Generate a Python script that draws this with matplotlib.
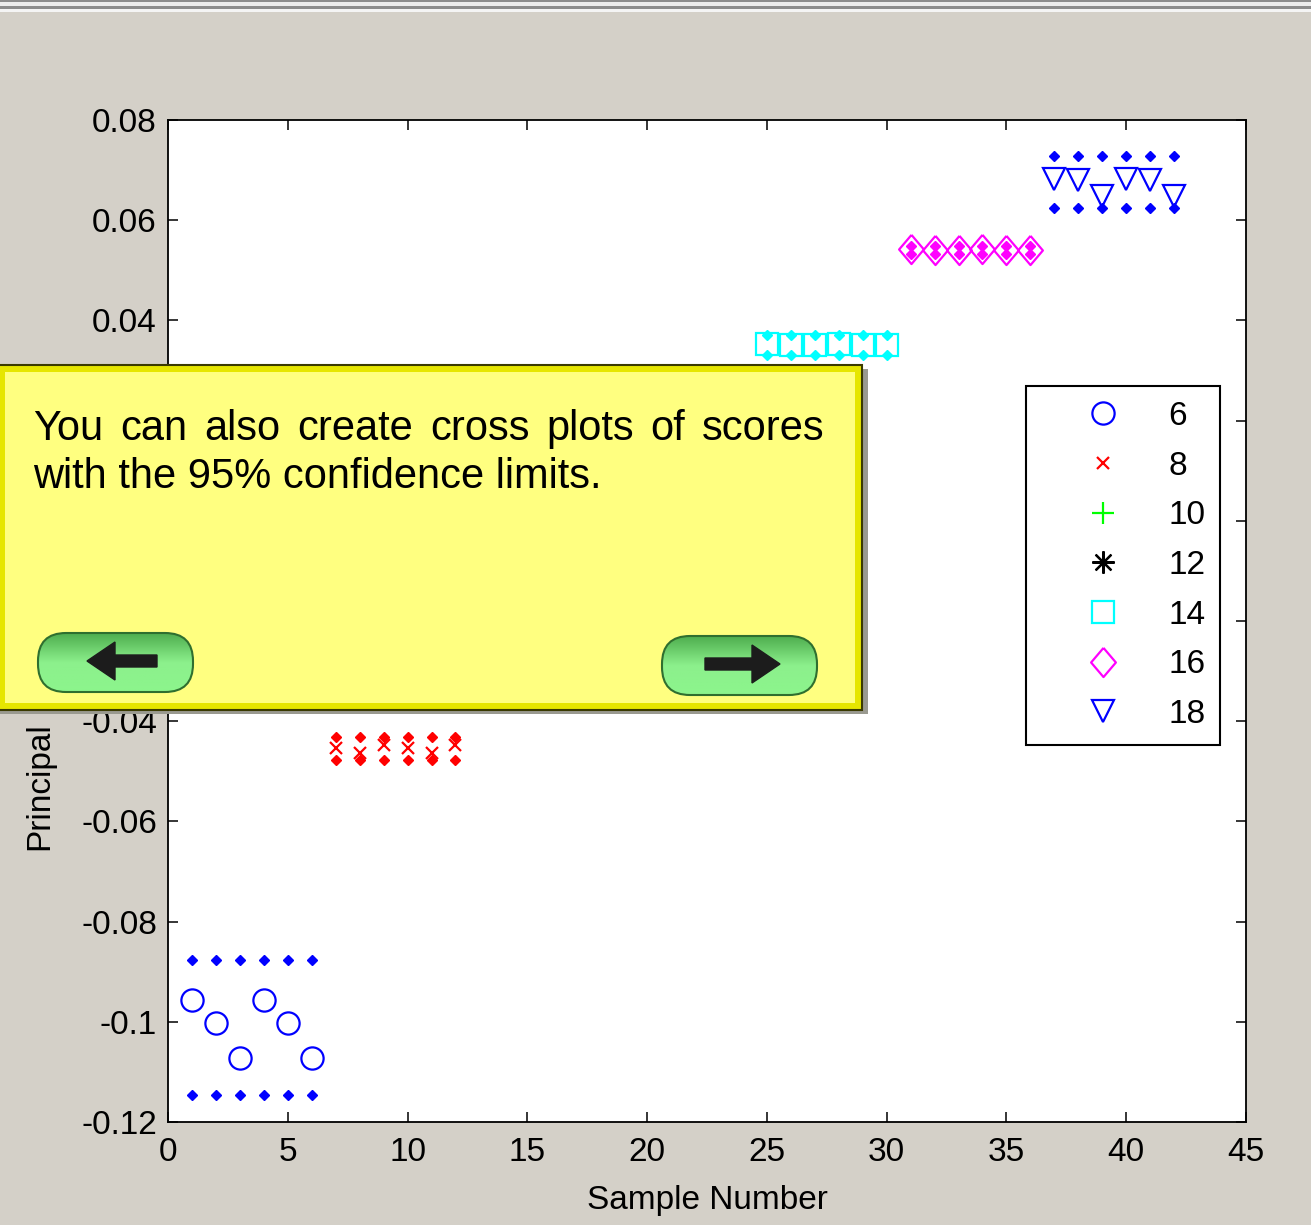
import matplotlib
matplotlib.use('Agg')
import matplotlib.pyplot as plt
import numpy as np
from matplotlib.patches import Rectangle, FancyBboxPatch, FancyArrow
from matplotlib.colors import LinearSegmentedColormap

plt.rcParams['font.family'] = ['Liberation Sans', 'DejaVu Sans']

# groups (legend labels) and their sample numbers
group_labels = ['6', '8', '10', '12', '14', '16', '18']
samples_6 = [1, 2, 3, 4, 5, 6]
samples_8 = [7, 8, 9, 10, 11, 12]
samples_10 = [13, 14, 15, 16, 17, 18]
samples_12 = [19, 20, 21, 22, 23, 24]
samples_14 = [25, 26, 27, 28, 29, 30]
samples_16 = [31, 32, 33, 34, 35, 36]
samples_18 = [37, 38, 39, 40, 41, 42]

# principal component scores (10 and 12 are hidden behind the help box)
scores_6 = [-0.0956, -0.1002, -0.1072, -0.0956, -0.1002, -0.1072]
scores_8 = [-0.0453, -0.0463, -0.0447, -0.0453, -0.0463, -0.0447]
scores_10 = [-0.0150, -0.0160, -0.0140, -0.0150, -0.0160, -0.0140]
scores_12 = [0.0100, 0.0090, 0.0110, 0.0100, 0.0090, 0.0110]
scores_14 = [0.0352, 0.0350, 0.0350, 0.0352, 0.0350, 0.0350]
scores_16 = [0.0542, 0.0540, 0.0541, 0.0542, 0.0540, 0.0541]
scores_18 = [0.0683, 0.0681, 0.0648, 0.0683, 0.0681, 0.0648]

# 95% confidence limits per group
upper_limits = [-0.0877, -0.0432, -0.0120, 0.0130, 0.0371, 0.0549, 0.0728]
lower_limits = [-0.1146, -0.0477, -0.0180, 0.0070, 0.0331, 0.0533, 0.0624]

x_ticks = [0, 5, 10, 15, 20, 25, 30, 35, 40, 45]
x_tick_labels = ['0', '5', '10', '15', '20', '25', '30', '35', '40', '45']
y_ticks = [-0.12, -0.1, -0.08, -0.06, -0.04, -0.02, 0, 0.02, 0.04, 0.06, 0.08]
# 0.02, 0 and -0.02 sit under the help box
y_tick_labels = ['-0.12', '-0.1', '-0.08', '-0.06', '-0.04', '', '',
                 '', '0.04', '0.06', '0.08']

help_line1 = 'You can also create cross plots of scores'
help_line2 = 'with the 95% confidence limits.'

all_samples = [samples_6, samples_8, samples_10, samples_12, samples_14, samples_16, samples_18]
all_scores = [scores_6, scores_8, scores_10, scores_12, scores_14, scores_16, scores_18]
colors = ['#0000ff', '#ff0000', '#00ff00', '#000000', '#00ffff', '#ff00ff', '#0000ff']
diamond = [(0, 1), (0.85, 0), (0, -1), (-0.85, 0), (0, 1)]
markers = ['o', 'x', '+', (8, 2, 0), 's', diamond, 'v']
sizes = [16, 9, 16, 16, 16, 21, 16]

W, H = 1311, 1225
fig = plt.figure(figsize=(W / 100, H / 100), dpi=100)
fig.patch.set_facecolor('#d4d0c8')

ax = fig.add_axes([168 / W, 1 - 1122 / H, (1246 - 168) / W, (1122 - 120) / H])
ax.set_facecolor('white')

for xs, ys, up, lo, c, m, s, lab in zip(all_samples, all_scores, upper_limits, lower_limits,
                                        colors, markers, sizes, group_labels):
    ax.plot(xs, ys, linestyle='none', marker=m, markersize=s, markerfacecolor='none',
            markeredgecolor=c, markeredgewidth=1.6, label=lab)
    # confidence limit markers
    ax.plot(xs, [up] * len(xs), linestyle='none', marker='D', markersize=5, color=c)
    ax.plot(xs, [lo] * len(xs), linestyle='none', marker='D', markersize=5, color=c)

ax.set_xlim(0, 45)
ax.set_ylim(-0.12, 0.08)
ax.set_xticks(x_ticks)
ax.set_xticklabels(x_tick_labels)
ax.set_yticks(y_ticks)
ax.set_yticklabels(y_tick_labels)
ax.tick_params(direction='in', length=7, width=1.1, top=True, right=True,
               labelsize=24, pad=8, colors='black')
ax.tick_params(axis='x', pad=11)
for sp in ax.spines.values():
    sp.set_linewidth(1.3)
ax.set_xlabel('Sample Number', fontsize=24, labelpad=12)
# only the visible part of the y label (the rest is under the help box)
ax.set_ylabel('Principal', fontsize=24)
ax.yaxis.set_label_coords(-0.1048, 0.335)

# legend lists only the score markers (first of each 3 lines)
handles = ax.get_lines()[0::3]
leg = ax.legend(handles, group_labels, loc='upper right', bbox_to_anchor=(0.976, 0.7345),
                borderaxespad=0, fontsize=24, frameon=True, fancybox=False,
                edgecolor='black', framealpha=1, borderpad=0.45, handlelength=3.7,
                handletextpad=0.1, labelspacing=0.56, numpoints=1)
leg.get_frame().set_linewidth(1.5)

# overlay in pixel coordinates: window border + help box
ov = fig.add_axes([0, 0, 1, 1], zorder=10)
ov.set_xlim(0, W)
ov.set_ylim(H, 0)
ov.axis('off')
ov.patch.set_alpha(0)

# window frame at top
ov.add_patch(Rectangle((0, 0), W, 2, color='#8c8c8c', lw=0))
ov.add_patch(Rectangle((0, 2), W, 4, color='#ececec', lw=0))
ov.add_patch(Rectangle((0, 6), W, 3, color='#8c8c8c', lw=0))
ov.add_patch(Rectangle((0, 9), W, 3, color='#f4f4f4', lw=0))

# help box
ov.add_patch(Rectangle((0, 369), 868, 345, color='#9a9a90', lw=0))
ov.add_patch(Rectangle((-2, 365), 864, 345, facecolor='#e6e600', edgecolor='#3a3a00', lw=1.5))
ov.add_patch(Rectangle((5, 372), 850, 331, facecolor='#ffff80', lw=0))

# justify first line across the box width
words = help_line1.split()
word_txt = [ov.text(0, 440, w, fontsize=30, va='baseline', ha='left', color='black')
            for w in words]
fig.canvas.draw()
rend = fig.canvas.get_renderer()
widths = [t.get_window_extent(rend).width for t in word_txt]
gap = (792 - sum(widths)) / (len(words) - 1)
xpos = 33
for t, w in zip(word_txt, widths):
    t.set_x(xpos)
    xpos += w + gap
ov.text(33, 488, help_line2, fontsize=30, va='baseline', ha='left', color='black')

# navigation buttons
green = LinearSegmentedColormap.from_list('btn', ['#4fae4f', '#8cf08c', '#8cf58c'])
grad = np.linspace(0, 1, 64).reshape(-1, 1)
for (bx, by) in [(38, 633), (662, 636)]:
    bw, bh = 155, 59
    btn = FancyBboxPatch((bx, by), bw, bh, boxstyle='round,pad=0,rounding_size=28',
                         facecolor='none', edgecolor='#2f6f2f', lw=1.5, zorder=3)
    ov.add_patch(btn)
    im = ov.imshow(grad, cmap=green, extent=(bx, bx + bw, by + bh, by), aspect='auto',
                   zorder=2)
    im.set_clip_path(btn)
ov.set_xlim(0, W)
ov.set_ylim(H, 0)

ov.add_patch(FancyArrow(157, 661, -70, 0, width=12, head_width=38, head_length=28,
                        length_includes_head=True, color='#1c1c1c', zorder=4))
ov.add_patch(FancyArrow(705, 664, 75, 0, width=12, head_width=38, head_length=28,
                        length_includes_head=True, color='#1c1c1c', zorder=4))

fig.savefig('out.png', dpi=100, facecolor=fig.get_facecolor())
